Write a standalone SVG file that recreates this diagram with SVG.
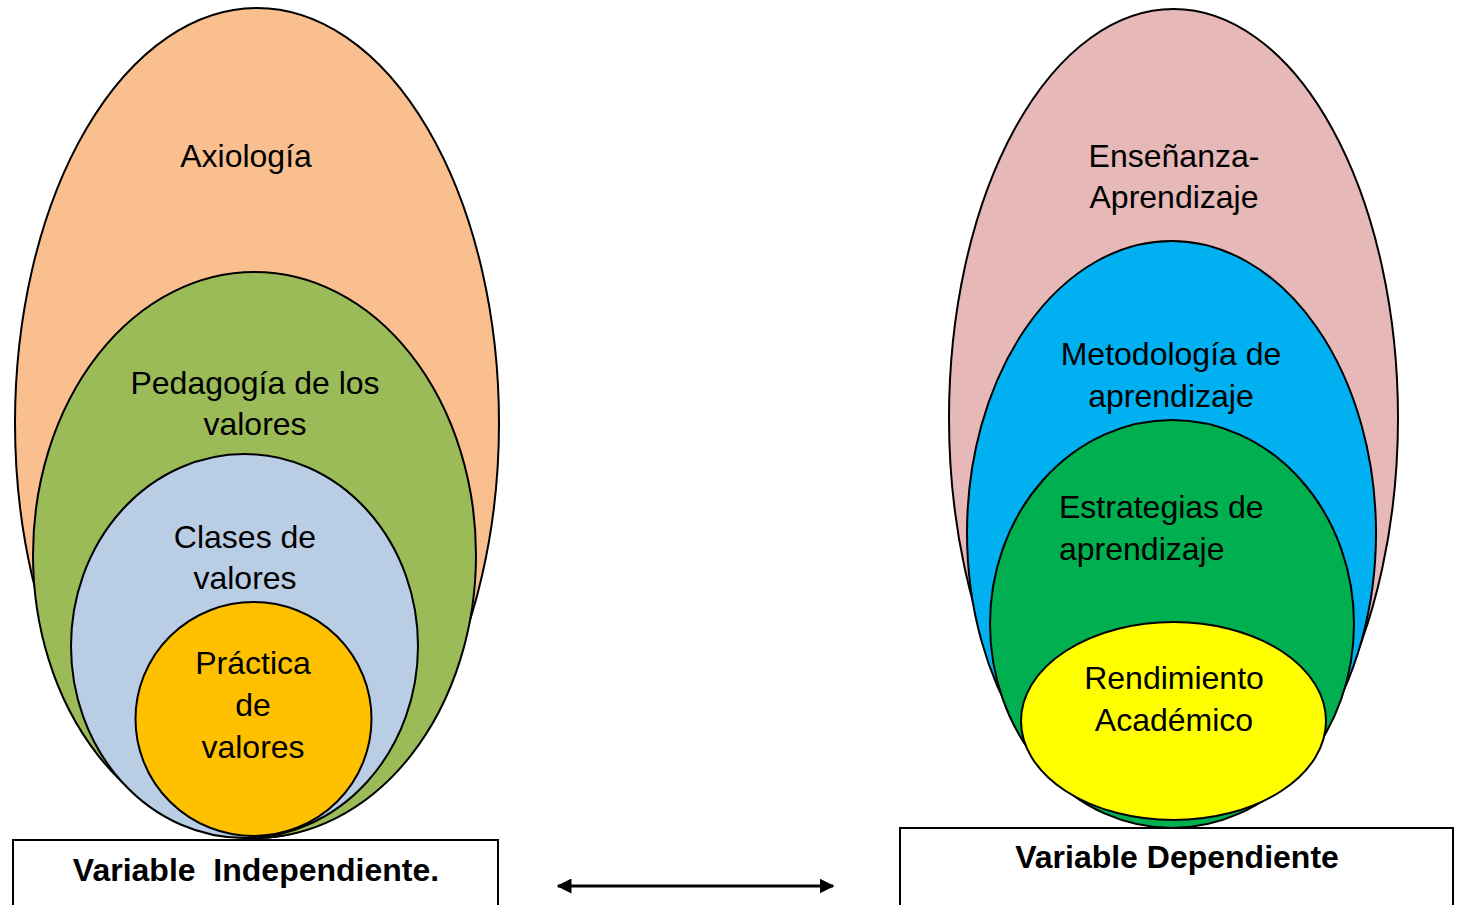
<svg xmlns="http://www.w3.org/2000/svg" width="1459" height="905" viewBox="0 0 1459 905">
<style>
.sh{stroke:#000;stroke-width:2}
.t{font-family:"Liberation Sans",Arial,sans-serif;font-size:32px;fill:#000}
.c{text-anchor:middle}
.b{font-family:"Liberation Sans",Arial,sans-serif;font-size:32px;font-weight:bold;fill:#000;text-anchor:middle}
.box{fill:#fff;stroke:#000;stroke-width:2}
</style>
<defs>
<marker id="ah" viewBox="0 0 10 10" refX="9" refY="5" markerWidth="5" markerHeight="5" orient="auto-start-reverse" markerUnits="strokeWidth">
<path d="M0,0 L10,5 L0,10 z" fill="#000"/>
</marker>
</defs>
<rect width="1459" height="905" fill="#fff"/>
<g id="axiologia"><ellipse class="sh" cx="257" cy="423" rx="242" ry="415" fill="#F9BF8F"/><text class="t c" x="246" y="167">Axiología</text></g>
<g id="pedagogia"><ellipse class="sh" cx="254.5" cy="555" rx="221.5" ry="283" fill="#9BBB59"/><text class="t c" x="255" y="394">Pedagogía de los</text><text class="t c" x="255" y="435">valores</text></g>
<g id="clases"><ellipse class="sh" cx="244.5" cy="646" rx="173.5" ry="192" fill="#B9CDE5"/><text class="t c" x="245" y="548">Clases de</text><text class="t c" x="245" y="589">valores</text></g>
<g id="practica"><ellipse class="sh" cx="253.5" cy="719" rx="118" ry="117" fill="#FFC000"/><text class="t c" x="253" y="674">Práctica</text><text class="t c" x="253" y="716">de</text><text class="t c" x="253" y="758">valores</text></g>
<g id="var-indep"><rect class="box" x="13" y="840" width="485" height="75"/><text class="b" x="256" y="881" xml:space="preserve">Variable  Independiente.</text></g>
<g id="ensenanza"><ellipse class="sh" cx="1173.5" cy="418" rx="224.5" ry="409" fill="#E6B8B7"/><text class="t c" x="1174" y="167">Enseñanza-</text><text class="t c" x="1174" y="208">Aprendizaje</text></g>
<g id="metodologia"><ellipse class="sh" cx="1171.5" cy="533" rx="204.5" ry="292" fill="#00B0F0"/><text class="t c" x="1171" y="365">Metodología de</text><text class="t c" x="1171" y="407">aprendizaje</text></g>
<g id="estrategias"><ellipse class="sh" cx="1172" cy="624" rx="182" ry="204" fill="#00B050"/><text class="t" x="1059" y="518">Estrategias de</text><text class="t" x="1059" y="560">aprendizaje</text></g>
<g id="rendimiento"><ellipse class="sh" cx="1173.5" cy="721" rx="152.5" ry="99" fill="#FFFF00"/><text class="t c" x="1174" y="689">Rendimiento</text><text class="t c" x="1174" y="731">Académico</text></g>
<g id="var-dep"><rect class="box" x="900" y="828" width="553" height="85"/><text class="b" x="1177" y="868">Variable Dependiente</text></g>
<g id="connectors"><line x1="558" y1="886" x2="833" y2="886" stroke="#000" stroke-width="3" marker-start="url(#ah)" marker-end="url(#ah)"/></g>
</svg>
